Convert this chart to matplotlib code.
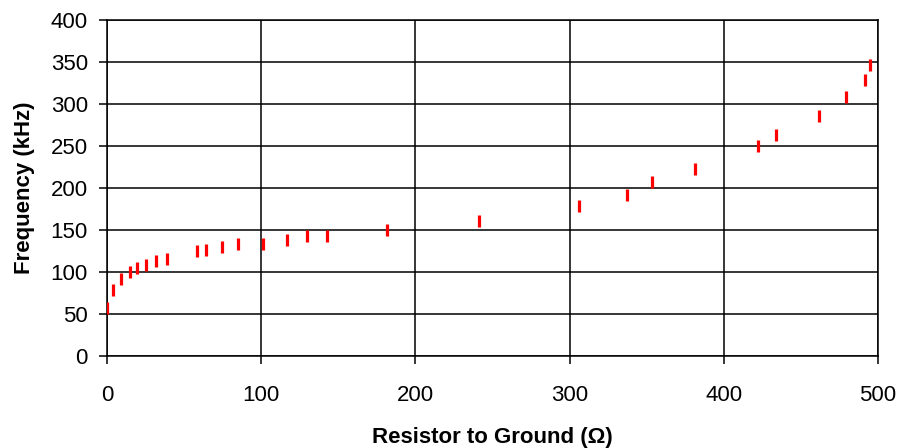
import matplotlib
matplotlib.use("Agg")
import matplotlib.pyplot as plt

plt.rcParams['font.family'] = ['Liberation Sans', 'DejaVu Sans']

# Measured oscillator frequency against resistor to ground
resistance_ohm = [0, 4, 9, 15, 19.5, 25.5, 32, 39, 58.5, 64.5, 74.5, 85,
                  101, 117, 130, 142.5, 181.5, 241, 306, 337.5, 353.5, 381.5,
                  422, 434, 462, 479, 491.5, 495]
frequency_khz = [57, 78, 92, 100, 104.5, 108.5, 113.5, 116, 124.5, 126.5, 129.5, 133.5,
                 133.5, 138, 142.5, 142.5, 149.5, 160.5, 178, 192, 207.5, 223,
                 250, 263.5, 286, 308, 328.5, 346]

x_ticks = [0, 100, 200, 300, 400, 500]
y_ticks = [0, 50, 100, 150, 200, 250, 300, 350, 400]

fig = plt.figure(figsize=(9.01, 4.48), dpi=100)
ax = fig.add_axes([0.1188, 0.2054, 0.8557, 0.75])

ax.plot(resistance_ohm, frequency_khz, linestyle='none', marker='|',
        markersize=9.3, markeredgewidth=2.3, color='#ff0000', zorder=3)

ax.set_xlim(0, 500)
ax.set_ylim(0, 400)
ax.set_xticks(x_ticks)
ax.set_yticks(y_ticks)
ax.grid(True, color='black', linewidth=1.1)
ax.set_axisbelow(True)
for s in ax.spines.values():
    s.set_linewidth(1.1)
    s.set_color('black')
ax.tick_params(direction='out', length=5.8, width=1.1, labelsize=16)
ax.tick_params(axis='x', pad=15)
ax.tick_params(axis='y', pad=8)

ax.set_xlabel('Resistor to Ground (\u03a9)', fontsize=16, fontweight='bold', labelpad=15)
ax.set_ylabel('Frequency (kHz)', fontsize=16, fontweight='bold', labelpad=11)

fig.savefig('out.png', dpi=100)
